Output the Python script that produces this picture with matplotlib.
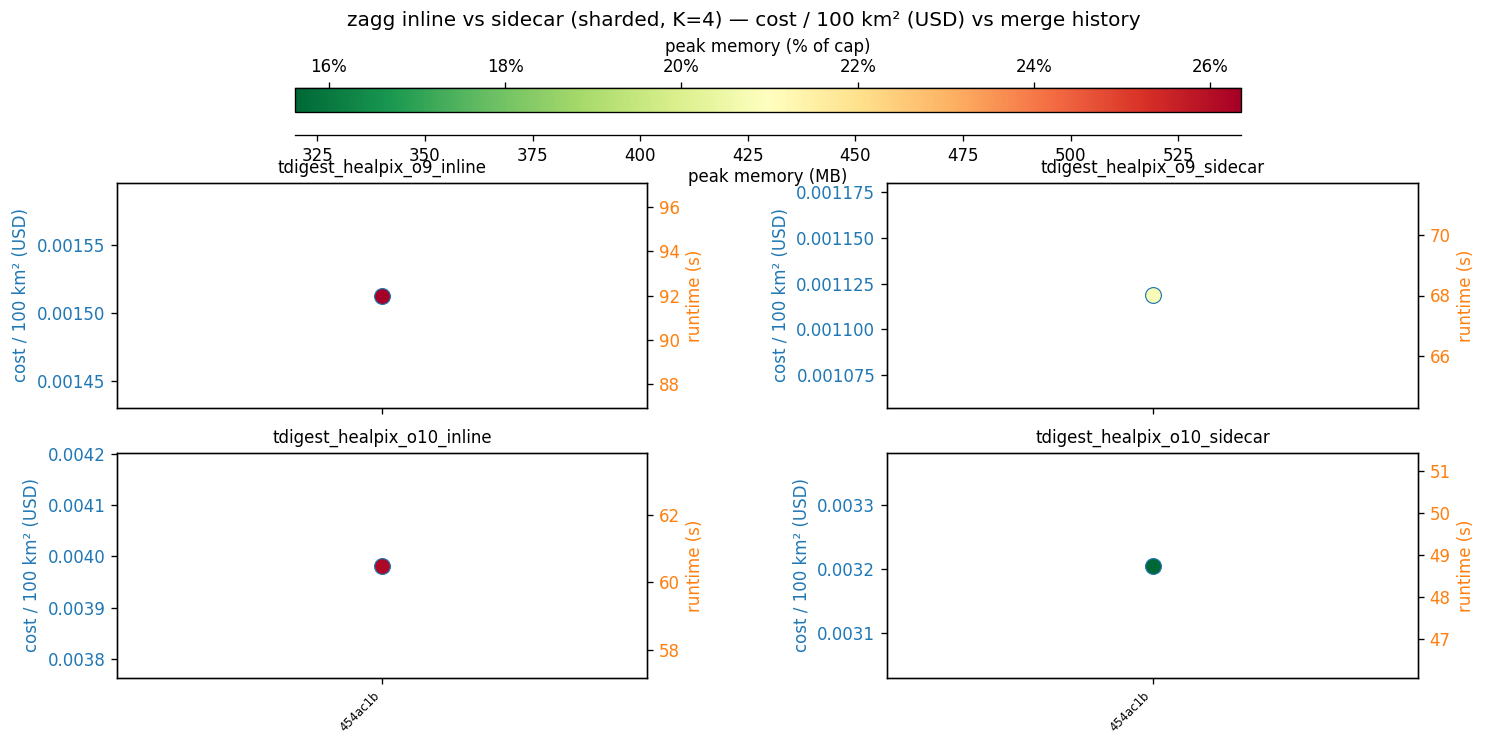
import matplotlib
matplotlib.use("Agg")
import matplotlib.pyplot as plt
import numpy as np
from matplotlib.colors import Normalize
from matplotlib.cm import ScalarMappable

# ---- data ----
panels = ["tdigest_healpix_o9_inline", "tdigest_healpix_o9_sidecar",
          "tdigest_healpix_o10_inline", "tdigest_healpix_o10_sidecar"]
commits = ["454ac1b"]
cost = {
    "tdigest_healpix_o9_inline": [0.001513],
    "tdigest_healpix_o9_sidecar": [0.0011185],
    "tdigest_healpix_o10_inline": [0.003982],
    "tdigest_healpix_o10_sidecar": [0.003205],
}
runtime = {
    "tdigest_healpix_o9_inline": [92.0],
    "tdigest_healpix_o9_sidecar": [68.0],
    "tdigest_healpix_o10_inline": [60.5],
    "tdigest_healpix_o10_sidecar": [48.75],
}
peak_mem = {
    "tdigest_healpix_o9_inline": [539.6],
    "tdigest_healpix_o9_sidecar": [426.0],
    "tdigest_healpix_o10_inline": [536.0],
    "tdigest_healpix_o10_sidecar": [319.8],
}
mem_cap_mb = 2048.0

W, H = 1488, 748
DPI = 120
fig = plt.figure(figsize=(W / DPI, H / DPI), dpi=DPI)

all_mem = np.concatenate([peak_mem[p] for p in panels])
norm = Normalize(vmin=all_mem.min(), vmax=all_mem.max())
cmap = plt.get_cmap("RdYlGn_r")

def px_rect(x0, y0, x1, y1):
    return [x0 / W, 1 - y1 / H, (x1 - x0) / W, (y1 - y0) / H]

rects = [px_rect(117, 183, 647, 408), px_rect(887, 183, 1418, 408),
         px_rect(117, 453, 647, 678), px_rect(887, 453, 1418, 678)]

for i, (p, r) in enumerate(zip(panels, rects)):
    ax = fig.add_axes(r)
    x = np.arange(len(commits))
    ax.scatter(x, cost[p], c=peak_mem[p], cmap=cmap, norm=norm, s=90,
               edgecolors="tab:blue", linewidths=0.7, zorder=3)
    ax.set_ylabel("cost / 100 km² (USD)", color="tab:blue")
    ax.tick_params(axis="y", labelcolor="tab:blue")
    ax.set_title(p, fontsize=10)
    ax2 = ax.twinx()
    ax2.plot(x, runtime[p], color="tab:orange", lw=1.2)
    ax2.set_ylabel("runtime (s)", color="tab:orange")
    ax2.tick_params(axis="y", labelcolor="tab:orange")
    ax.set_xticks(x)
    if i >= 2:
        ax.set_xticklabels(commits, rotation=45, ha="right", fontsize=7)
    else:
        ax.set_xticklabels([])

# colorbar
cax = fig.add_axes(px_rect(295, 88, 1241, 112))
sm = ScalarMappable(norm=norm, cmap=cmap)
cb = fig.colorbar(sm, cax=cax, orientation="horizontal")
cax.xaxis.set_ticks([])
cax.tick_params(axis="x", which="both", bottom=False, labelbottom=False)

sec_mb = cax.secondary_xaxis(-0.96, functions=(lambda v: v, lambda v: v))
sec_mb.set_xticks([325, 350, 375, 400, 425, 450, 475, 500, 525])
sec_mb.set_xlabel("peak memory (MB)", labelpad=2)

sec_pct = cax.secondary_xaxis("top", functions=(lambda v: v / mem_cap_mb * 100.0,
                                                lambda v: v * mem_cap_mb / 100.0))
sec_pct.set_xticks([16, 18, 20, 22, 24, 26])
sec_pct.set_xticklabels([f"{t}%" for t in [16, 18, 20, 22, 24, 26]])
sec_pct.set_xlabel("peak memory (% of cap)")

fig.suptitle("zagg inline vs sidecar (sharded, K=4) — cost / 100 km² (USD) vs merge history",
             fontsize=12, y=0.985)

fig.savefig("out.png", dpi=DPI)
